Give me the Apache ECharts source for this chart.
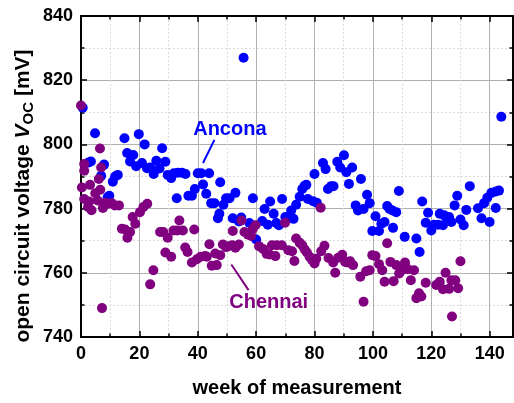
<!DOCTYPE html>
<html>
<head>
<meta charset="utf-8">
<script src="https://cdn.jsdelivr.net/npm/echarts@6/dist/echarts.min.js"></script>
<style>
html, body { margin: 0; padding: 0; background: #fff; }
#chart { width: 514px; height: 403px; }
</style>
</head>
<body>
<div id="chart"></div>
<script>
// Open circuit voltage per week of measurement, two sites
const anconaWeek = [0.6, 2.6, 3.4, 4.8, 6.9, 7.9, 9.1, 9.7, 10.9, 11.7, 12.6, 14.9, 15.8, 16.8, 17.9, 18.9, 19.8, 20.9, 21.8, 22.6,
  23.7, 24.9, 25.8, 26.9, 27.8, 28.9, 29.7, 30.9, 31.8, 32.8, 33.2, 34.6, 35.8, 36.8, 38.0, 39.0, 40.0, 41.2, 41.8, 42.9,
  43.9, 44.6, 45.7, 46.9, 47.4, 47.7, 48.8, 49.7, 50.9, 52.0, 52.9, 54.1, 54.9, 55.7, 57.7, 58.9, 60.0, 62.1, 62.9, 64.0,
  64.8, 66.0, 66.9, 67.8, 68.9, 70.0, 70.9, 72.0, 72.8, 73.7, 74.9, 75.8, 76.6, 77.2, 77.7, 79.5, 80.0, 80.8, 82.9, 83.8,
  84.6, 85.7, 86.5, 87.8, 88.8, 90.1, 90.9, 91.8, 92.9, 94.1, 94.9, 95.9, 96.8, 98.0, 98.9, 99.8, 100.9, 102.1, 102.9, 104.0,
  104.9, 105.7, 106.7, 106.9, 108.0, 108.9, 110.9, 114.9, 116.0, 116.9, 118.1, 118.9, 120.0, 120.9, 122.3, 122.9, 124.0, 124.4, 125.2, 126.1,
  126.9, 128.0, 128.9, 130.0, 131.1, 132.0, 133.2, 136.0, 137.2, 138.1, 139.2, 140.0, 140.6, 142.1, 142.1, 143.2, 144.0];
const anconaVoc = [811.4, 794.4, 794.7, 803.5, 790.2, 793.7, 783.5, 784.0, 788.4, 790.0, 790.5, 801.9, 797.3, 794.7, 796.7, 793.2, 803.2, 794.2, 800.0, 792.6,
  792.8, 790.8, 794.9, 792.5, 798.8, 794.6, 790.5, 789.5, 791.0, 783.2, 791.2, 791.2, 790.8, 784.0, 784.0, 786.1, 791.0, 791.0, 787.5, 784.6,
  791.0, 781.7, 781.7, 777.0, 778.4, 788.2, 781.2, 783.2, 783.2, 777.0, 784.9, 776.0, 777.2, 827.0, 775.5, 783.2, 770.4, 776.1, 779.9, 775.0,
  782.2, 778.4, 775.5, 774.8, 783.0, 777.4, 777.4, 779.4, 776.8, 781.2, 783.7, 786.1, 787.1, 787.4, 783.0, 782.3, 790.8, 781.8, 794.2, 792.3,
  786.1, 787.0, 787.0, 794.6, 792.8, 796.6, 791.3, 787.7, 792.8, 781.0, 779.4, 789.2, 779.9, 784.3, 781.7, 773.0, 777.6, 773.0, 775.3, 775.8,
  780.8, 779.9, 779.4, 774.0, 778.9, 785.5, 771.2, 770.7, 766.5, 782.2, 775.6, 778.7, 773.2, 775.0, 775.0, 778.4, 774.8, 777.9, 777.4, 777.4,
  775.8, 781.0, 784.0, 776.6, 774.8, 779.6, 787.0, 780.1, 777.0, 781.7, 783.4, 775.8, 784.9, 785.3, 780.2, 785.6, 808.6];

const chennaiWeek = [0.0, 0.3, 1.1, 1.1, 1.1, 2.4, 2.8, 3.1, 3.6, 4.9, 5.7, 6.1, 6.5, 6.6, 6.9, 7.2, 7.5, 8.3, 9.4, 10.5,
  11.6, 13.0, 14.0, 15.1, 15.9, 16.8, 17.7, 18.6, 20.2, 21.4, 22.7, 23.7, 24.8, 27.1, 28.2, 28.9, 29.7, 30.9, 31.7, 33.0,
  33.7, 34.9, 35.7, 36.5, 38.0, 38.8, 39.7, 41.0, 42.5, 43.1, 44.0, 44.8, 46.0, 46.5, 47.7, 48.6, 49.7, 50.5, 51.8, 52.0,
  52.9, 54.1, 55.0, 56.0, 57.2, 58.3, 58.9, 59.8, 61.0, 62.4, 63.6, 64.6, 65.4, 66.6, 67.1, 68.8, 69.9, 71.0, 72.3, 73.1,
  73.7, 74.9, 75.8, 76.6, 77.4, 78.3, 79.2, 80.0, 80.6, 82.1, 82.3, 83.4, 84.8, 86.4, 87.1, 88.1, 89.5, 90.5, 91.3, 92.2,
  93.2, 95.7, 96.8, 97.7, 98.9, 99.8, 100.9, 102.1, 103.2, 104.0, 104.9, 106.0, 107.1, 108.0, 109.0, 110.0, 111.0, 112.0, 113.0, 114.1,
  114.9, 115.8, 116.6, 118.1, 121.7, 122.9, 124.0, 124.9, 126.1, 126.9, 127.1, 128.2, 129.2, 130.0];
const chennaiVoc = [812.1, 786.6, 793.9, 791.8, 783.0, 780.5, 782.2, 787.4, 779.5, 784.8, 782.5, 789.2, 798.7, 785.9, 792.8, 749.0, 780.2, 781.8, 781.5, 781.7,
  781.0, 781.0, 773.7, 773.5, 770.9, 772.7, 777.4, 775.3, 778.9, 780.5, 781.5, 756.4, 760.8, 772.7, 772.7, 766.3, 770.9, 765.0, 773.2, 773.2,
  776.3, 773.2, 767.9, 766.5, 763.2, 773.5, 764.2, 765.0, 765.2, 765.0, 768.9, 762.2, 766.0, 762.4, 765.5, 768.8, 768.0, 768.3, 768.6, 773.0,
  767.8, 768.8, 776.3, 772.7, 771.9, 771.5, 773.7, 774.8, 768.3, 767.4, 765.9, 765.7, 768.6, 765.2, 768.6, 768.6, 775.6, 767.0, 766.7, 763.7,
  770.7, 769.4, 768.6, 767.3, 766.3, 765.0, 763.9, 762.9, 764.4, 780.3, 766.7, 768.4, 764.6, 763.2, 760.0, 764.7, 765.6, 763.4, 763.2, 763.6,
  762.4, 758.8, 751.0, 760.5, 760.8, 765.5, 765.2, 762.7, 760.8, 757.2, 769.2, 763.4, 757.4, 762.4, 759.8, 760.8, 763.2, 761.1, 757.7, 760.8,
  752.1, 753.6, 752.6, 756.9, 756.2, 757.2, 754.9, 760.0, 755.0, 757.7, 746.4, 757.7, 755.2, 763.6];

// Axis ticks
const weekTicks = [0, 20, 40, 60, 80, 100, 120, 140];
const vocTicks = [740, 760, 780, 800, 820, 840];

const BLUE = '#0000ff';
const PURPLE = '#800080';
const FONT = '"Liberation Sans", Arial, sans-serif';

const zip = (xs, ys) => xs.map((x, i) => [x, ys[i]]);

const chart = echarts.init(document.getElementById('chart'), null, { renderer: 'canvas' });

const tickStyle = { color: '#000', width: 1.5 };
const lineStyle = { color: '#000', width: 2 };

function valueAxis(extra) {
  return Object.assign({
    type: 'value',
    axisLine: { show: true, onZero: false, lineStyle: lineStyle },
    axisTick: { show: true, inside: true, length: 6, lineStyle: tickStyle },
    minorTick: { show: true, splitNumber: 2, length: 3.5, lineStyle: tickStyle },
    splitLine: { show: false },
    minorSplitLine: { show: false },
    axisLabel: { show: false }
  }, extra);
}

const labelStyle = {
  show: true, color: '#000', fontSize: 18, fontWeight: 'bold', fontFamily: FONT, margin: 8
};

chart.setOption({
  animation: false,
  backgroundColor: '#fff',
  grid: { left: 81, right: 1, top: 16, bottom: 64, containLabel: false },
  xAxis: [
    valueAxis({
      min: 0, max: 148, interval: 20, position: 'bottom',
      splitLine: { show: true, lineStyle: { color: '#b0b0b0', width: 1 } },
      minorSplitLine: { show: true, lineStyle: { color: '#dcdcdc', width: 1, type: [2, 2] } },
      axisLabel: Object.assign({}, labelStyle, {
        showMaxLabel: false,
        formatter: v => (weekTicks.includes(v) ? String(v) : '')
      }),
      name: 'week of measurement', nameLocation: 'middle', nameGap: 41,
      nameTextStyle: { color: '#000', fontSize: 20, fontWeight: 'bold', fontFamily: FONT }
    }),
    valueAxis({ min: 0, max: 148, interval: 20, position: 'top' })
  ],
  yAxis: [
    valueAxis({
      min: 740, max: 840, interval: 20, position: 'left',
      splitLine: { show: true, lineStyle: { color: '#b0b0b0', width: 1 } },
      minorSplitLine: { show: true, lineStyle: { color: '#dcdcdc', width: 1, type: [2, 2] } },
      axisLabel: Object.assign({}, labelStyle, {
        formatter: v => (vocTicks.includes(v) ? String(v) : '')
      })
    }),
    valueAxis({ min: 740, max: 840, interval: 20, position: 'right' })
  ],
  series: [
    {
      name: 'Ancona', type: 'scatter', xAxisIndex: 0, yAxisIndex: 0, z: 5,
      data: zip(anconaWeek, anconaVoc),
      symbol: 'circle', symbolSize: 10,
      itemStyle: { color: BLUE, opacity: 1 },
      markLine: {
        silent: true, animation: false,
        symbol: ['none', 'arrow'], symbolSize: [0, 10],
        lineStyle: { color: BLUE, width: 2, type: 'solid' },
        label: { show: false },
        data: [[{ coord: [45.7, 801.4] }, { coord: [41.8, 794.2] }]]
      }
    },
    {
      name: 'Chennai', type: 'scatter', xAxisIndex: 0, yAxisIndex: 0, z: 5,
      data: zip(chennaiWeek, chennaiVoc),
      symbol: 'circle', symbolSize: 10,
      itemStyle: { color: PURPLE, opacity: 1 },
      markLine: {
        silent: true, animation: false,
        symbol: ['none', 'arrow'], symbolSize: [0, 10],
        lineStyle: { color: PURPLE, width: 2, type: 'solid' },
        label: { show: false },
        data: [[{ coord: [57.4, 754.6] }, { coord: [51.5, 762.6] }]]
      }
    }
  ]
});

// Site names placed in data coordinates next to their arrows
const ancPos = chart.convertToPixel({ gridIndex: 0 }, [51, 804.7]);
const chePos = chart.convertToPixel({ gridIndex: 0 }, [64.3, 750.8]);

chart.setOption({
  graphic: [
    {
      type: 'text', x: ancPos[0], y: ancPos[1], z: 10,
      style: { text: 'Ancona', fill: BLUE, font: 'bold 20px ' + FONT, align: 'center', verticalAlign: 'middle' }
    },
    {
      type: 'text', x: chePos[0], y: chePos[1], z: 10,
      style: { text: 'Chennai', fill: PURPLE, font: 'bold 20px ' + FONT, align: 'center', verticalAlign: 'middle' }
    },
    {
      type: 'text', x: 23, y: 196, rotation: Math.PI / 2, z: 10,
      style: {
        text: '{a|open circuit voltage }{v|V}{s|OC}{a| [mV]}',
        align: 'center', verticalAlign: 'middle',
        rich: {
          a: { fontSize: 21, fontWeight: 'bold', fontFamily: FONT, fill: '#000', lineHeight: 27 },
          v: { fontSize: 21, fontWeight: 'bold', fontStyle: 'italic', fontFamily: FONT, fill: '#000', lineHeight: 27 },
          s: { fontSize: 15, fontWeight: 'bold', fontFamily: FONT, fill: '#000', lineHeight: 15, verticalAlign: 'bottom' }
        }
      }
    }
  ]
});
</script>
</body>
</html>
